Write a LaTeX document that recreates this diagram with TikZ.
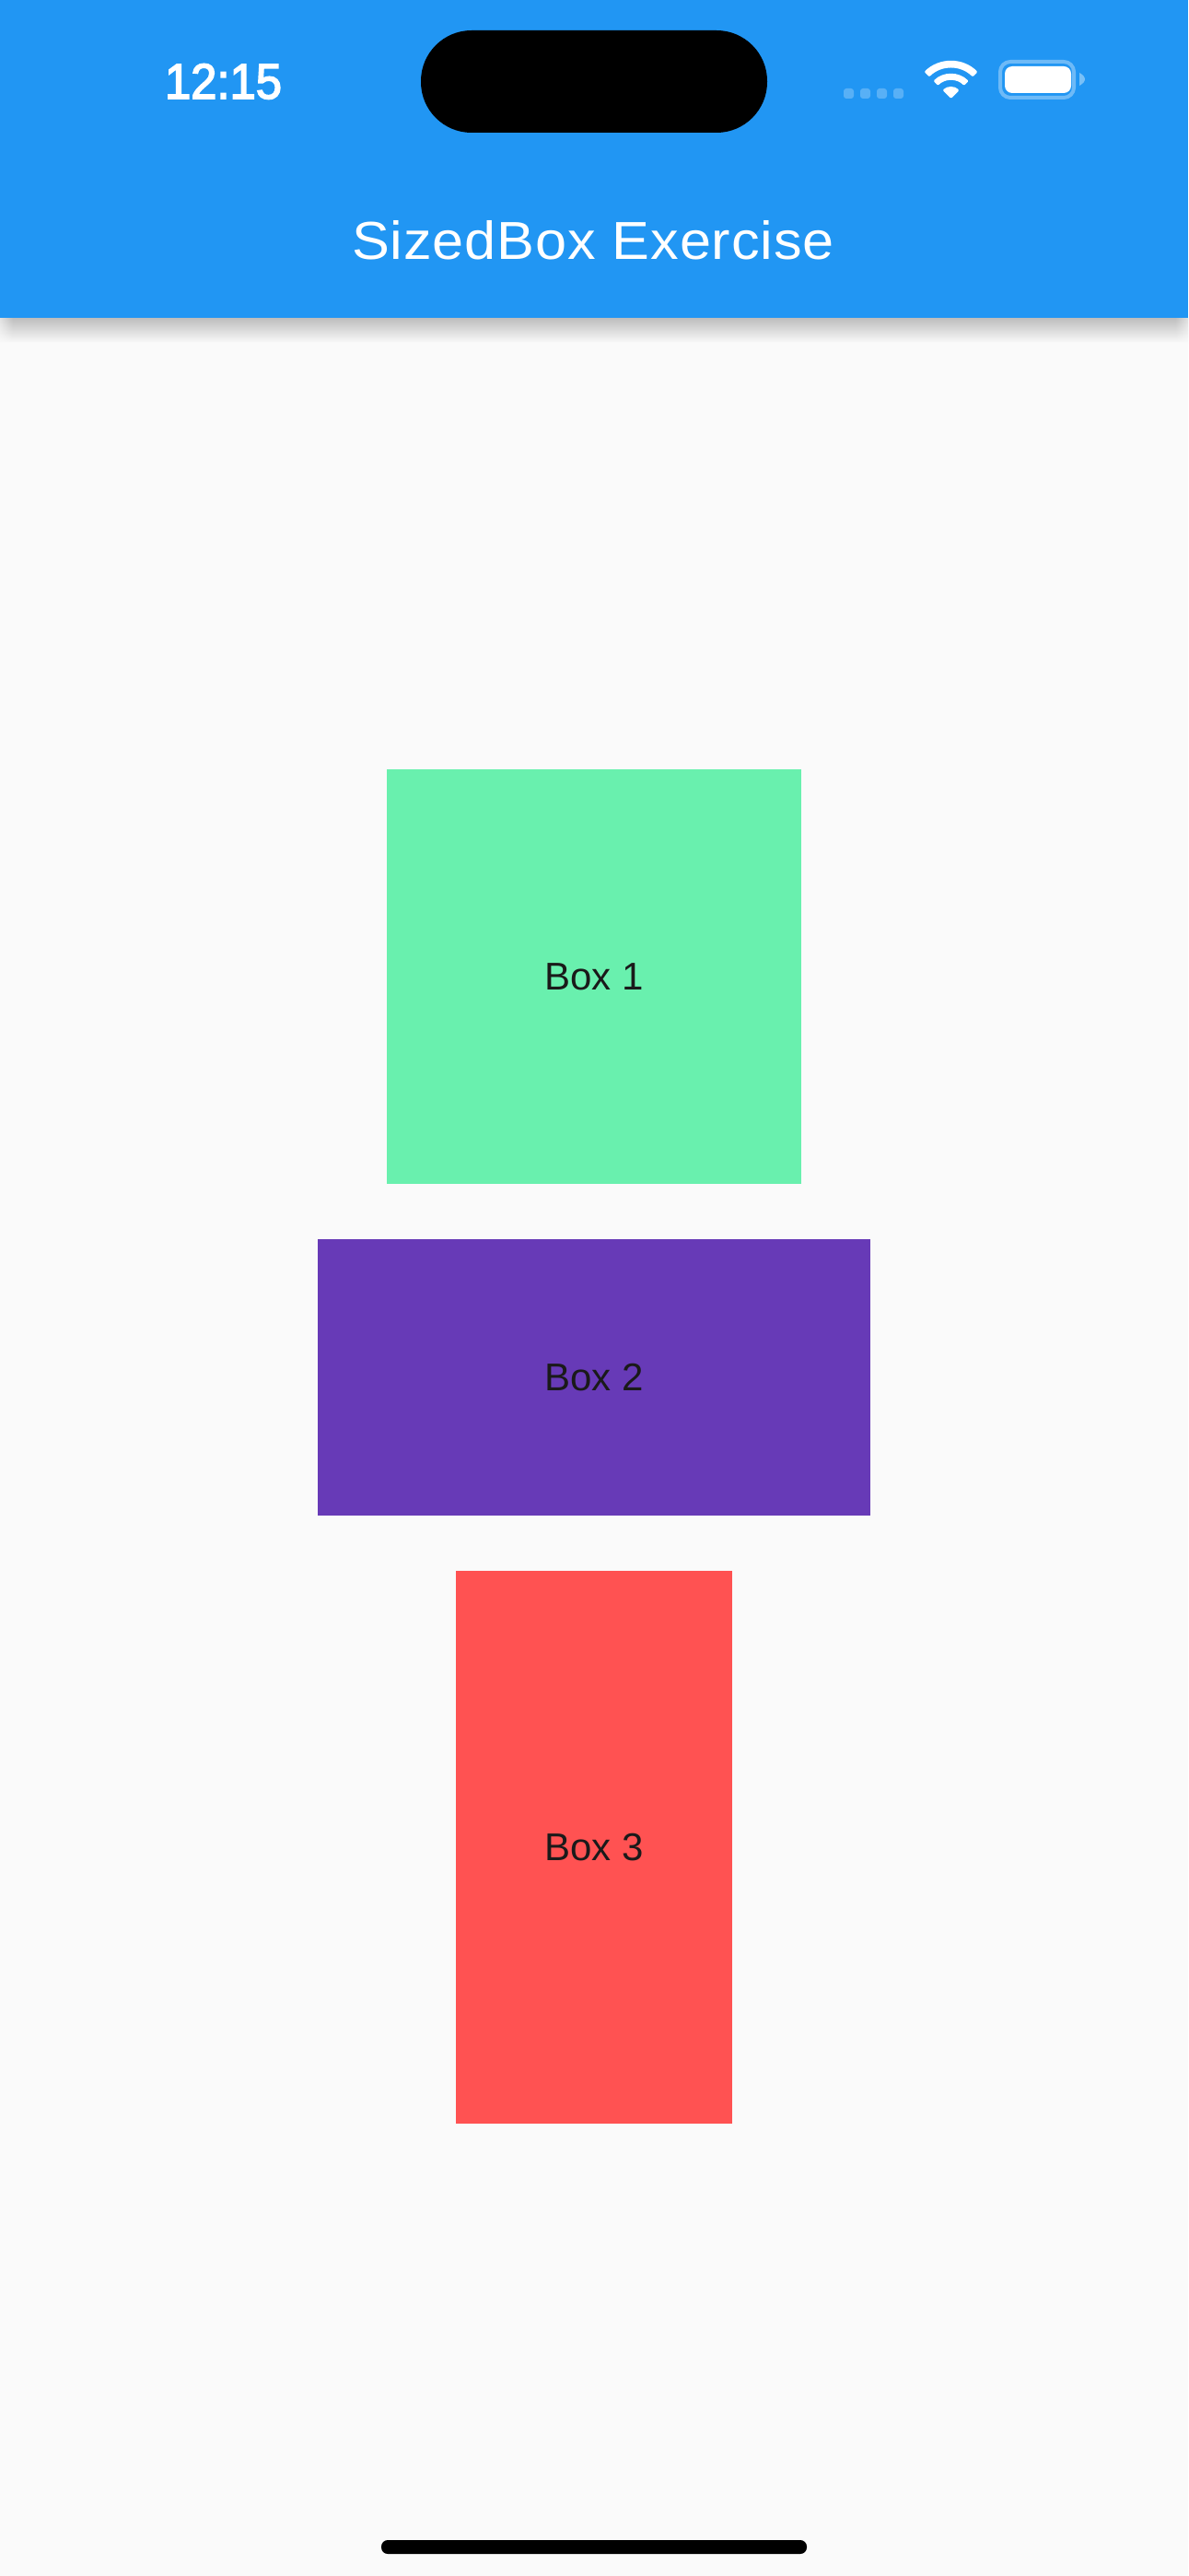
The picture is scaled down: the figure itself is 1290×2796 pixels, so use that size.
\documentclass[tikz,border=0pt]{standalone}
\usepackage{fontspec}
\usetikzlibrary{fadings}
\setmainfont{Liberation Sans}
\newfontfamily\timefont[FakeBold=3]{Liberation Sans}
\newfontfamily\titlefont[LetterSpace=1.5]{Liberation Sans}
\definecolor{barblue}{HTML}{2196F3}
\definecolor{pagebg}{HTML}{FAFAFA}
\definecolor{boxgreen}{HTML}{69F0AE}
\definecolor{boxpurple}{HTML}{673AB7}
\definecolor{boxred}{HTML}{FF5252}
\definecolor{shadowtop}{HTML}{BDBDBD}
\definecolor{labelink}{HTML}{1A1A1A}
\tikzset{
  panel/.style={fill=#1,draw=none,inner sep=0pt,outer sep=0pt,
    text=labelink,text height=30pt,text depth=2pt,align=center,
    font=\fontsize{42pt}{42pt}\selectfont},
  statusdot/.style={fill=white,fill opacity=.25,rounded corners=3pt},
}
\begin{document}
\begin{tikzpicture}[x=1pt,y=-1pt]
\useasboundingbox (0,0) rectangle (1290,2796);
\fill[pagebg] (0,0) rectangle (1290,2796);
% shadow under bar
\shade[top color=shadowtop,bottom color=pagebg] (0,345) rectangle (1290,372);
\fill[pagebg,path fading=east,opacity=.6] (0,345) rectangle (14,372);
\fill[pagebg,path fading=west,opacity=.6] (1276,345) rectangle (1290,372);
% app bar
\fill[barblue] (0,0) rectangle (1290,345);
% notch
\fill[black,rounded corners=55pt] (457,33) rectangle (833,144);
% time
\node[text=white,inner sep=0pt,anchor=base] (time) at (242.5,107)
  {\scalebox{.94}[1]{\fontsize{54pt}{54pt}\timefont 12:15}};
% title
\node[text=white,inner sep=0pt,anchor=base] (title) at (644,281.5)
  {\scalebox{1.055}[1]{\fontsize{58pt}{58pt}\titlefont SizedBox Exercise}};
% cellular dots
\foreach \x in {916,934,952,970}
  \fill[statusdot] (\x,96) rectangle ++(11,11);
% wifi
\begin{scope}[shift={(1032.5,107)},rounded corners=1.2pt]
\fill[white] (-135:41) arc[start angle=-135,end angle=-45,radius=41]
   -- (-45:33.3) arc[start angle=-45,end angle=-135,radius=33.3] -- cycle;
\fill[white] (-135:27) arc[start angle=-135,end angle=-45,radius=27]
   -- (-45:20) arc[start angle=-45,end angle=-135,radius=20] -- cycle;
\fill[white] (0,0) -- (-135:12.8) arc[start angle=-135,end angle=-45,radius=12.8] -- cycle;
\end{scope}
% battery
\draw[white,opacity=.35,line width=4pt,rounded corners=11pt] (1086,67) rectangle (1166,106);
\fill[white,rounded corners=8pt] (1091,72) rectangle (1163,101);
\fill[white,opacity=.4] (1172,79) .. controls (1176,81) and (1178,84) .. (1178,86) .. controls (1178,88) and (1176,91) .. (1172,93) -- cycle;
% boxes
\node[panel=boxgreen,minimum width=450pt,minimum height=450pt] (box1) at (645,1060) {Box 1};
\node[panel=boxpurple,minimum width=600pt,minimum height=300pt] (box2) at (645,1495) {Box 2};
\node[panel=boxred,minimum width=300pt,minimum height=600pt] (box3) at (645,2005) {Box 3};
% home indicator
\fill[black,rounded corners=7pt] (414,2757) rectangle (876,2772);
\end{tikzpicture}
\end{document}
